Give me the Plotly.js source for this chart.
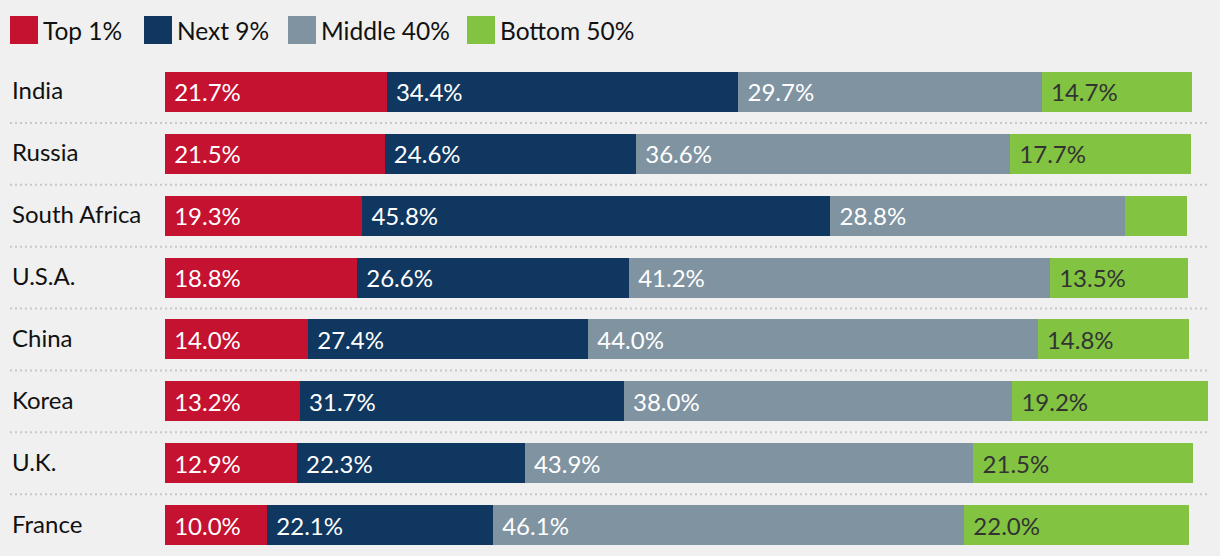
<!DOCTYPE html>
<html>
<head>
<meta charset="utf-8">
<script src="https://cdn.plot.ly/plotly-3.0.1.min.js"></script>
<style>
  html, body { margin: 0; padding: 0; background: #f0f0f0; }
  #chart { width: 1220px; height: 556px; }
</style>
</head>
<body>
<div id="chart"></div>
<script>
// ---- data ----
const countries = ["India", "Russia", "South Africa", "U.S.A.", "China", "Korea", "U.K.", "France"];
const seriesNames = ["Top 1%", "Next 9%", "Middle 40%", "Bottom 50%"];
const top1 =    [21.7, 21.5, 19.3, 18.8, 14.0, 13.2, 12.9, 10.0];
const next9 =   [34.4, 24.6, 45.8, 26.6, 27.4, 31.7, 22.3, 22.1];
const middle40 =[29.7, 36.6, 28.8, 41.2, 44.0, 38.0, 43.9, 46.1];
const bottom50 =[14.7, 17.7, 6.1, 13.5, 14.8, 19.2, 21.5, 22.0];

const seriesValues = [top1, next9, middle40, bottom50];
const colors = ["#c41230", "#10375f", "#7f93a1", "#82c341"];
const textColors = ["#ffffff", "#ffffff", "#ffffff", "#333333"];

// ---- layout geometry ----
const W = 1220, H = 556;
const L = 165, R = 0, T = 61, B = 0;
const PW = W - L - R, PH = H - T - B;
const px2x = px => (px - L) / PW;
const py2y = py => (H - B - py) / PH;
const FONT = "Lato, 'Source Sans Pro', sans-serif";

const traces = seriesValues.map((vals, i) => ({
  type: "bar",
  orientation: "h",
  name: seriesNames[i],
  y: countries,
  x: vals,
  marker: { color: colors[i], line: { width: 0 } },
  texttemplate: "\u00a0%{x:.1f}%",
  textposition: vals.map(v => v < 10 ? "none" : "inside"),
  insidetextanchor: "start",
  insidetextfont: { family: FONT, size: 24, color: textColors[i] },
  constraintext: "none",
  hoverinfo: "skip",
  showlegend: false
}));

const shapes = [];
const annotations = [];

// dotted separators between rows
for (let k = 0; k < countries.length - 1; k++) {
  shapes.push({
    type: "line", xref: "paper", yref: "y",
    x0: px2x(10), x1: px2x(1208), y0: k + 0.5, y1: k + 0.5,
    line: { color: "#c8c8c8", width: 2, dash: "2px,3px" }
  });
}

// country labels
countries.forEach(c => {
  annotations.push({
    xref: "paper", yref: "y", x: px2x(10), y: c, yshift: 2,
    text: c, showarrow: false, xanchor: "left", yanchor: "middle",
    font: { family: FONT, size: 24, color: "#111111" }
  });
});

// custom legend
const legendX = [10, 144, 288, 467];
seriesNames.forEach((n, i) => {
  shapes.push({
    type: "rect", xref: "paper", yref: "paper",
    x0: px2x(legendX[i]), x1: px2x(legendX[i] + 28),
    y0: py2y(44), y1: py2y(16),
    fillcolor: colors[i], line: { width: 0 }
  });
  annotations.push({
    xref: "paper", yref: "paper", x: px2x(legendX[i] + 31), y: py2y(30),
    text: n, showarrow: false, xanchor: "left", yanchor: "middle",
    font: { family: FONT, size: 24.5, color: "#111111" }
  });
});

const layout = {
  width: W, height: H,
  margin: { l: L, r: R, t: T, b: B, pad: 0 },
  paper_bgcolor: "#f0f0f0",
  plot_bgcolor: "#f0f0f0",
  barmode: "stack",
  bargap: 0.355,
  showlegend: false,
  xaxis: { range: [0, PW / 10.22], visible: false, fixedrange: true },
  yaxis: {
    type: "category", autorange: false, range: [countries.length - 0.5, -0.5],
    showticklabels: false, showgrid: false, zeroline: false, fixedrange: true
  },
  shapes: shapes,
  annotations: annotations,
  font: { family: FONT }
};

Plotly.newPlot("chart", traces, layout, { displayModeBar: false, staticPlot: true });
</script>
</body>
</html>
